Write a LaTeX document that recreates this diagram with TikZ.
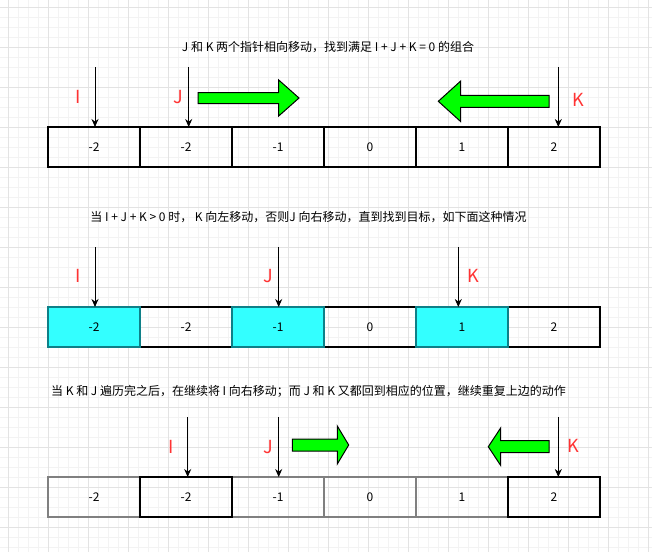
\documentclass[tikz,border=0pt]{standalone}
\usepackage{fontspec}
\newfontfamily\cjk{Noto Sans CJK SC}
\usetikzlibrary{arrows.meta}
\definecolor{gridminor}{HTML}{F3F3F3}
\definecolor{gridmajor}{HTML}{E3E3E3}
\definecolor{cyanfill}{HTML}{33FFFF}
\definecolor{cyanline}{HTML}{0E8088}
\definecolor{labelred}{HTML}{FF3333}
\definecolor{arrowgreen}{HTML}{00FF00}
\definecolor{grayline}{HTML}{808080}
\newcommand\garrow[6]{% tail, head base, tip, centre y, half shaft, half head
  \draw[fill=arrowgreen, line width=1pt, line join=miter]
    (#1,#4-#5) -- (#2,#4-#5) -- (#2,#4-#6) -- (#3,#4) -- (#2,#4+#6)
    -- (#2,#4+#5) -- (#1,#4+#5) -- cycle;}
\begin{document}
\begin{tikzpicture}[x=1pt,y=-1pt,
  cell/.style={draw=black, line width=1.2pt, minimum width=92pt, minimum height=40pt,
    inner sep=0pt, outer sep=0pt, anchor=north west, font=\cjk\fontsize{12}{14}\selectfont},
  hot/.style={fill=cyanfill, draw=cyanline},
  dim/.style={draw=grayline},
  ptr/.style={draw=black, line width=1pt, -{Stealth[length=8pt,width=7pt]}},
  lbl/.style={text=labelred, font=\cjk\fontsize{18}{20}\selectfont, inner sep=0pt},
  note/.style={font=\cjk\fontsize{12}{14}\selectfont, inner sep=0pt}]
\useasboundingbox (0,0) rectangle (652,552);
\fill[white] (0,0) rectangle (652,552);
% grid
\foreach \x in {-2,8,...,652} \draw[gridminor, line width=0.8pt] (\x,0) -- (\x,552);
\foreach \y in {-3,7,...,552} \draw[gridminor, line width=0.8pt] (0,\y) -- (652,\y);
\foreach \x in {8,48,...,652} \draw[gridmajor, line width=0.8pt] (\x,0) -- (\x,552);
\foreach \y in {7,47,...,552} \draw[gridmajor, line width=0.8pt] (0,\y) -- (652,\y);

% ---------- row 1 ----------
\node[note] (n1) at (328,46.7) {J 和 K 两个指针相向移动，找到满足 I + J + K = 0 的组合};
\foreach \v [count=\i] in {-2,-2,-1,0,1,2}
  \node[cell] (a\i) at ({48+92*(\i-1)},127) {\v};
\coordinate (a1t) at (95,67);
\coordinate (a2t) at (188.7,67);
\coordinate (a6t) at (558.3,67);
\draw[ptr] (a1t) -- (a1t |- a1.north);
\draw[ptr] (a2t) -- (a2t |- a2.north);
\draw[ptr] (a6t) -- (a6t |- a6.north);
\node[lbl] (aI) at (78,97) {I};
\node[lbl] (aJ) at (178,97) {J};
\node[lbl] (aK) at (578,100) {K};
\garrow{198}{278.7}{299}{98}{5.5}{18}
\garrow{549}{460.7}{438.3}{101.3}{6}{20.3}

% ---------- row 2 ----------
\node[note] (n2) at (308.5,216.7) {当 I + J + K > 0 时， K 向左移动，否则J 向右移动，直到找到目标，如下面这种情况};
\node[cell] (b2) at (140,307) {-2};
\node[cell] (b4) at (324,307) {0};
\node[cell] (b6) at (508,307) {2};
\node[cell,hot] (b1) at (48,307) {-2};
\node[cell,hot] (b3) at (232,307) {-1};
\node[cell,hot] (b5) at (416,307) {1};
\coordinate (b1t) at (95,247);
\coordinate (b3t) at (278.7,247);
\coordinate (b5t) at (458.3,247);
\draw[ptr] (b1t) -- (b1t |- b1.north);
\draw[ptr] (b3t) -- (b3t |- b3.north);
\draw[ptr] (b5t) -- (b5t |- b5.north);
\node[lbl] (bI) at (78,276) {I};
\node[lbl] (bJ) at (268,276) {J};
\node[lbl] (bK) at (473,276) {K};

% ---------- row 3 ----------
\node[note] (n3) at (308.5,391.7) {当 K 和 J 遍历完之后，在继续将 I 向右移动；而 J 和 K 又都回到相应的位置，继续重复上边的动作};
\node[cell,dim] (c1) at (48,477) {-2};
\node[cell,dim] (c3) at (232,477) {-1};
\node[cell,dim] (c4) at (324,477) {0};
\node[cell,dim] (c5) at (416,477) {1};
\node[cell] (c2) at (140,477) {-2};
\node[cell] (c6) at (508,477) {2};
\coordinate (c2t) at (187.7,417);
\coordinate (c3t) at (278.7,417);
\coordinate (c6t) at (558.3,417);
\draw[ptr] (c2t) -- (c2t |- c2.north);
\draw[ptr] (c3t) -- (c3t |- c3.north);
\draw[ptr] (c6t) -- (c6t |- c6.north);
\node[lbl] (cI) at (171,447) {I};
\node[lbl] (cJ) at (268,447) {J};
\node[lbl] (cK) at (573,446) {K};
\garrow{292.3}{337.3}{348.7}{445}{6}{19}
\garrow{549}{500.7}{488.3}{446.7}{6}{18.8}
\end{tikzpicture}
\end{document}
